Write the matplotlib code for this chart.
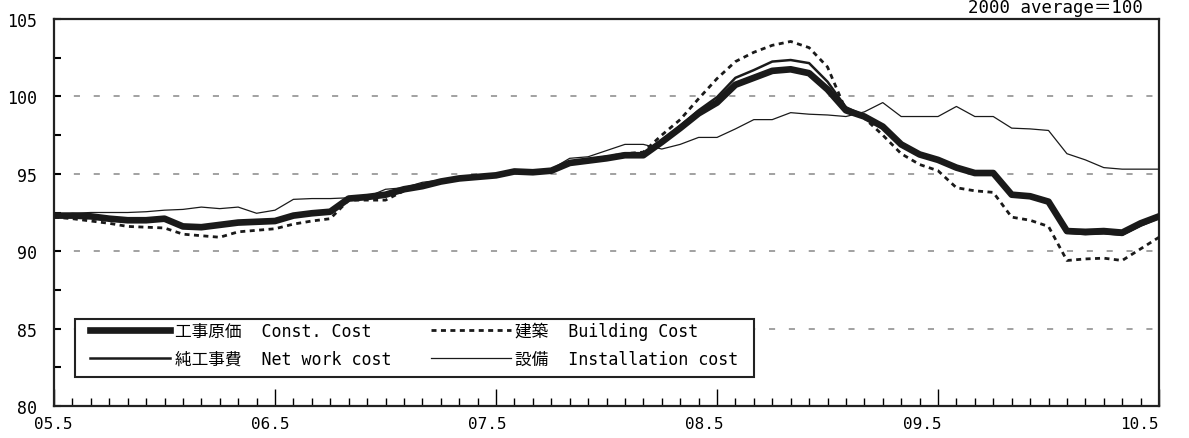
import numpy as np
import matplotlib
matplotlib.use('Agg')
import matplotlib.pyplot as plt
from matplotlib.ticker import MultipleLocator, FixedLocator
from matplotlib.patches import Rectangle
from matplotlib.transforms import ScaledTranslation

plt.rcParams['font.family'] = ['DejaVu Sans Mono', 'Noto Sans CJK JP']

# monthly index values, 2005.5 - 2010.5 (2000 average = 100)
const_cost = [92.3, 92.3, 92.25, 92.1, 92.0, 92.0, 92.1, 91.6, 91.55, 91.7, 91.85, 91.9, 91.95, 92.3, 92.45, 92.55,
              93.4, 93.5, 93.65, 94.0, 94.2, 94.5, 94.7, 94.8, 94.9, 95.15, 95.1, 95.2, 95.7, 95.85, 96.0, 96.2,
              96.2, 97.05, 97.95, 98.9, 99.6, 100.75, 101.2, 101.65, 101.75, 101.5, 100.45, 99.1, 98.7, 98.05,
              96.9, 96.25, 95.9, 95.4, 95.05, 95.05, 93.65, 93.55, 93.2, 91.3, 91.25, 91.3, 91.2, 91.8, 92.25]
net_work = [92.3, 92.35, 92.3, 92.15, 92.05, 92.05, 92.15, 91.65, 91.6, 91.75, 91.9, 91.95, 92.0, 92.35, 92.5, 92.6,
            93.45, 93.55, 93.7, 94.05, 94.25, 94.55, 94.75, 94.85, 94.95, 95.2, 95.15, 95.25, 95.75, 95.9, 96.05, 96.25,
            96.25, 97.15, 98.1, 99.1, 99.95, 101.2, 101.7, 102.25, 102.35, 102.15, 100.95, 99.3, 98.75, 98.1,
            96.95, 96.3, 95.95, 95.45, 95.1, 95.1, 93.7, 93.6, 93.25, 91.2, 91.1, 91.15, 91.05, 91.65, 92.15]
building = [92.2, 92.1, 91.95, 91.8, 91.6, 91.55, 91.5, 91.1, 91.0, 90.9, 91.25, 91.35, 91.45, 91.75, 91.95, 92.1,
            93.3, 93.3, 93.3, 93.9, 94.2, 94.5, 94.7, 94.8, 94.9, 95.15, 95.1, 95.2, 95.75, 95.9, 96.1, 96.3,
            96.4, 97.5, 98.5, 99.85, 101.15, 102.25, 102.85, 103.3, 103.55, 103.15, 101.9, 99.1, 98.6, 97.5,
            96.3, 95.6, 95.2, 94.1, 93.9, 93.8, 92.2, 92.0, 91.6, 89.4, 89.5, 89.55, 89.4, 90.15, 90.9]
installation = [92.3, 92.45, 92.5, 92.5, 92.5, 92.55, 92.65, 92.7, 92.85, 92.75, 92.85, 92.45, 92.65, 93.35, 93.4, 93.4,
                93.45, 93.5, 94.0, 94.1, 94.45, 94.6, 94.75, 94.8, 94.9, 95.2, 95.2, 95.3, 96.0, 96.1, 96.5, 96.9,
                96.9, 96.6, 96.9, 97.35, 97.35, 97.9, 98.5, 98.5, 98.95, 98.85, 98.8, 98.7, 99.0, 99.6,
                98.7, 98.7, 98.7, 99.35, 98.7, 98.7, 97.95, 97.9, 97.8, 96.3, 95.9, 95.4, 95.3, 95.3, 95.3]

year_labels = ['05.5', '06.5', '07.5', '08.5', '09.5', '10.5']

labels = ['工事原価  Const. Cost', '純工事費  Net work cost',
          '建築  Building Cost', '設備  Installation cost']

months = np.arange(len(const_cost))

fig = plt.figure(figsize=(11.89, 4.39), dpi=100)
ax = fig.add_axes([54 / 1189, 1 - 407 / 439, 1105 / 1189, 387 / 439])

l1, = ax.plot(months, const_cost, color='#1a1a1a', lw=4.8, zorder=4)
l2, = ax.plot(months, net_work, color='#1a1a1a', lw=1.8, zorder=5)
l3, = ax.plot(months, building, color='#1a1a1a', lw=2.0, ls=(0, (1.8, 1.6)), zorder=3)
l4, = ax.plot(months, installation, color='#1a1a1a', lw=0.9, zorder=3)

ax.set_xlim(0, 60)
ax.set_ylim(80, 105)

ax.yaxis.set_major_locator(MultipleLocator(5))
ax.yaxis.set_minor_locator(MultipleLocator(2.5))
ax.xaxis.set_major_locator(FixedLocator(np.arange(0, 61, 12)))
ax.xaxis.set_minor_locator(MultipleLocator(1))
ax.set_xticklabels(year_labels)

ax.tick_params(axis='y', which='both', direction='in', length=5, width=1.5, pad=12,
               labelsize=12, right=False)
ax.tick_params(axis='x', which='major', direction='in', length=12, width=1.0, pad=7, labelsize=11.5)
ax.tick_params(axis='x', which='minor', direction='in', length=5.5, width=1.0)

# year labels drift slightly left of their ticks in the original
for k, lab in enumerate(ax.get_xticklabels()):
    dx = -(1 + 3.8 * k) / 100
    lab.set_transform(lab.get_transform() + ScaledTranslation(dx, 0, fig.dpi_scale_trans))

for level in [85, 90, 95, 100]:
    ax.axhline(level, color='#888888', lw=1.1, ls=(0, (4, 9)), zorder=1)

for s in ax.spines.values():
    s.set_linewidth(1.6)
    s.set_color('#222222')

# legend frame
box = (0.019, 0.075, 0.6145, 0.15)
ax.add_patch(Rectangle(box[:2], box[2], box[3], transform=ax.transAxes,
                       facecolor='white', edgecolor='#222222', lw=1.5, zorder=6))
leg = ax.legend([l1, l2, l3, l4], labels, ncol=2, loc='center',
                bbox_to_anchor=(box[0], box[1] + 0.008, box[2], box[3]),
                borderaxespad=0, fontsize=12,
                handlelength=4.8, handletextpad=0.25, columnspacing=2.4,
                labelspacing=0.6, borderpad=0.2, frameon=False)
leg.set_zorder(7)

fig.text(1143 / 1189, 1 - 13 / 439, '2000 average＝100', ha='right', va='baseline', fontsize=12.5)

fig.savefig('out.png', dpi=100)
